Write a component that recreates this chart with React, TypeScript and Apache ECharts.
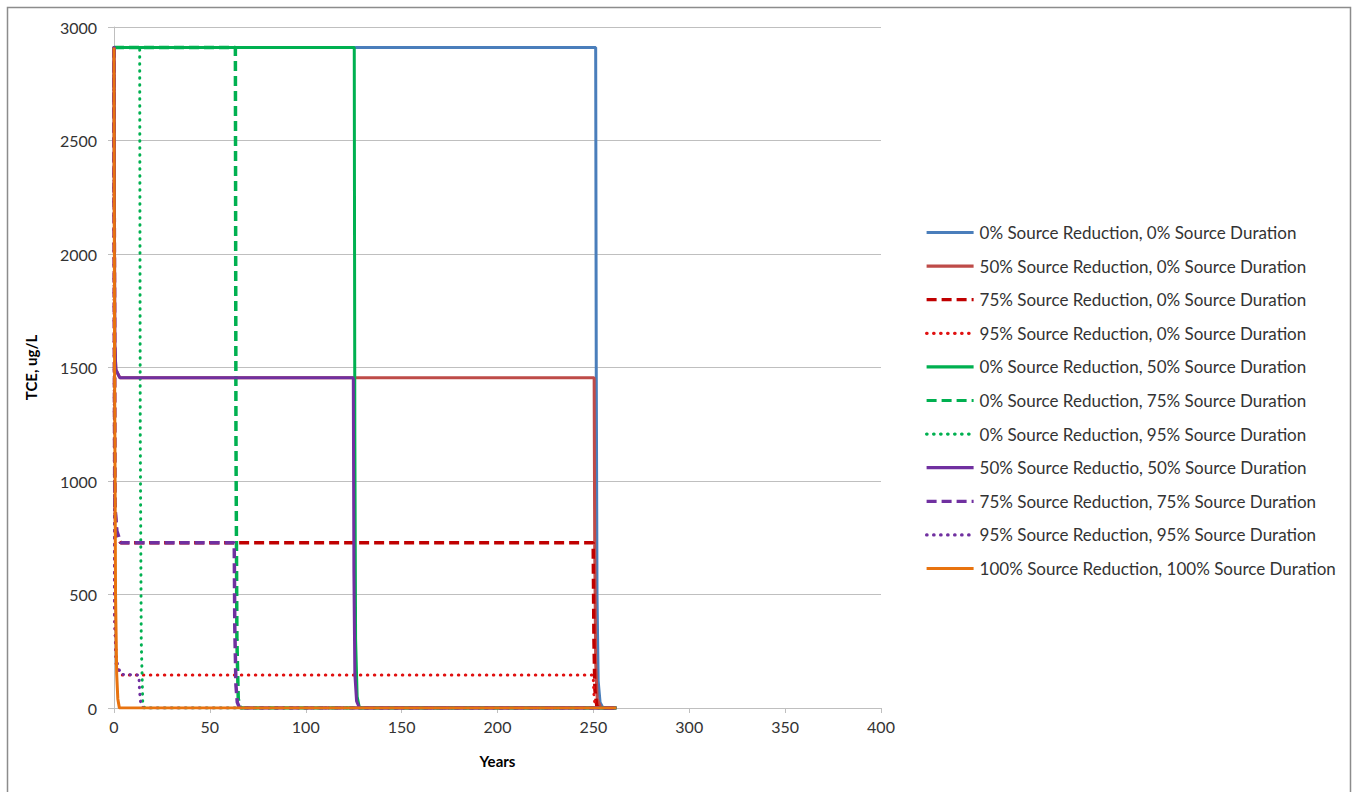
import React, { useEffect, useRef } from "react";
import * as echarts from "echarts";

const xTicks = [0, 50, 100, 150, 200, 250, 300, 350, 400];
const yTicks = [0, 500, 1000, 1500, 2000, 2500, 3000];

const seriesNames = [
  "0% Source Reduction, 0% Source Duration",
  "50% Source Reduction, 0% Source Duration",
  "75% Source Reduction, 0% Source Duration",
  "95% Source Reduction, 0% Source Duration",
  "0% Source Reduction, 50% Source Duration",
  "0% Source Reduction, 75% Source Duration",
  "0% Source Reduction, 95% Source Duration",
  "50% Source Reductio, 50% Source Duration",
  "75% Source Reduction, 75% Source Duration",
  "95% Source Reduction, 95% Source Duration",
  "100% Source Reduction, 100% Source Duration",
];

const r0d0 = [[0, 2910], [251.2, 2910], [251.5, 1500], [251.9, 500], [252.5, 120], [253.5, 25], [255, 0], [262, 0]];
const r50d0 = [[0, 2910], [0.4, 1600], [1, 1490], [3, 1455], [250.4, 1455], [250.7, 700], [251.2, 200], [252, 40], [254, 0], [262, 0]];
const r75d0 = [[0, 2910], [0.4, 900], [1.2, 760], [3.5, 728], [249.9, 728], [250.3, 300], [250.8, 80], [251.8, 10], [253, 0], [262, 0]];
const r95d0 = [[0, 2910], [0.3, 400], [1.2, 180], [4, 145], [249.9, 145], [250.3, 60], [250.8, 15], [252, 0], [262, 0]];
const r0d50 = [[0, 2910], [125.3, 2910], [125.6, 1200], [126, 300], [126.8, 50], [128, 0], [262, 0]];
const r0d75 = [[0, 2910], [63.3, 2910], [63.6, 1200], [64.1, 300], [64.8, 40], [66, 0], [262, 0]];
const r0d95 = [[0, 2910], [13.4, 2910], [13.7, 1200], [14.2, 300], [15, 20], [16, 0], [262, 0]];
const r50d50 = [[0, 2910], [0.4, 1600], [1, 1490], [3, 1455], [124.8, 1455], [125.1, 600], [125.6, 150], [126.5, 30], [128, 0], [262, 0]];
const r75d75 = [[0, 2910], [0.4, 900], [1.5, 780], [3.5, 728], [62.7, 728], [63, 350], [63.6, 100], [64.3, 25], [65.5, 0], [262, 0]];
const r95d95 = [[0, 2910], [0.3, 400], [1.2, 210], [3.5, 148], [13, 145], [13.3, 80], [13.8, 30], [14.5, 8], [15.5, 0], [262, 0]];
const r100d100 = [[0, 2910], [0.3, 1500], [0.8, 500], [1.4, 150], [2, 40], [2.8, 0], [262, 0]];

const seriesData = [r0d0, r50d0, r75d0, r95d0, r0d50, r0d75, r0d95, r50d50, r75d75, r95d95, r100d100];

const seriesColors = [
  "#4A7EBB", "#BE4B48", "#C00000", "#E01010", "#00B050", "#00B050",
  "#00B050", "#7030A0", "#7030A0", "#7030A0", "#E8730F",
];
const lineKinds = [
  "solid", "solid", "dash", "dot", "solid", "dash",
  "dot", "solid", "dash", "dot", "solid",
];

const FONT = "Lato, 'Open Sans', sans-serif";
const TEXT = "#333333";
const GRIDC = "#BFBFBF";

function styleFor(kind: string, color: string) {
  if (kind === "dash") return { color, width: 3.5, type: [10, 5], cap: "butt" };
  if (kind === "dot") return { color, width: 3, type: [0.5, 6.5], cap: "round" };
  return { color, width: 3, type: "solid", cap: "butt" };
}

export default function App() {
  const ref = useRef<HTMLDivElement>(null);
  useEffect(() => {
    if (!ref.current) return;
    const chart = echarts.init(ref.current, undefined, { renderer: "svg" });
    const series = seriesNames.map((name, i) => ({
      name,
      type: "line",
      data: seriesData[i],
      symbol: "none",
      showSymbol: false,
      z: 2 + i,
      lineStyle: styleFor(lineKinds[i], seriesColors[i]),
      itemStyle: { color: seriesColors[i], opacity: 0 },
      emphasis: { disabled: true },
    }));
    chart.setOption({
      animation: false,
      backgroundColor: "#ffffff",
      textStyle: { fontFamily: FONT },
      graphic: [
        {
          type: "rect",
          shape: { x: 7.5, y: 7.5, width: 1343, height: 800 },
          style: { fill: "none", stroke: "#8C8C8C", lineWidth: 1.5 },
          silent: true,
        },
      ],
      grid: { left: 114, top: 27, width: 767, height: 681, containLabel: false },
      legend: {
        orient: "vertical",
        left: 925,
        top: 224,
        padding: 0,
        itemWidth: 47,
        itemHeight: 16,
        itemGap: 16.6,
        itemStyle: { opacity: 0, borderWidth: 0 },
        lineStyle: { width: 3.2 },
        textStyle: { fontFamily: FONT, fontSize: 17, lineHeight: 16, color: TEXT, padding: [0, 0, 0, 1] },
        data: seriesNames,
        selectedMode: false,
      },
      xAxis: {
        type: "value",
        min: xTicks[0],
        max: xTicks[xTicks.length - 1],
        interval: 50,
        name: "Years",
        nameLocation: "middle",
        nameGap: 45,
        nameTextStyle: { fontFamily: FONT, fontSize: 15, fontWeight: "bold", color: "#000" },
        axisLine: { show: true, onZero: false, lineStyle: { color: GRIDC, width: 1 } },
        axisTick: { show: true, length: 5, lineStyle: { color: GRIDC } },
        axisLabel: { fontFamily: FONT, fontSize: 16, color: TEXT, margin: 10 },
        splitLine: { show: false },
      },
      yAxis: {
        type: "value",
        min: yTicks[0],
        max: yTicks[yTicks.length - 1],
        interval: 500,
        name: "TCE, ug/L",
        nameLocation: "middle",
        nameGap: 76,
        nameTextStyle: { fontFamily: FONT, fontSize: 15, fontWeight: "bold", color: "#000" },
        axisLine: { show: true, lineStyle: { color: GRIDC, width: 1 } },
        axisTick: { show: true, length: 6, lineStyle: { color: GRIDC } },
        axisLabel: {
          fontFamily: FONT,
          fontSize: 16,
          color: TEXT,
          margin: 17,
          formatter: (v: number) => String(v),
        },
        splitLine: { show: true, lineStyle: { color: GRIDC, width: 1 } },
      },
      series,
    });
    return () => chart.dispose();
  }, []);
  return (
    <div
      ref={ref}
      style={{ position: "fixed", left: 0, top: 0, width: 1357, height: 792, background: "#fff" }}
    />
  );
}
